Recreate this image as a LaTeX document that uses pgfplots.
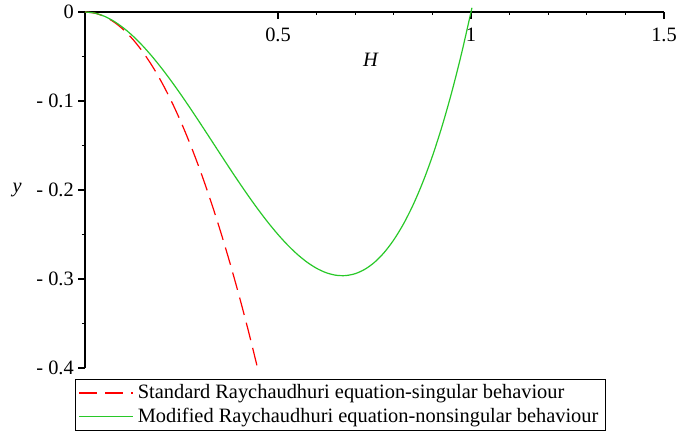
\documentclass[border=0pt]{standalone}
\usepackage{pgfplots}
\pgfplotsset{compat=1.18}
\usepackage{fontspec}
\setmainfont{Liberation Serif}
\definecolor{mgreen}{RGB}{40,200,40}
\begin{document}
\fontsize{20.4bp}{24bp}\selectfont
\begin{tikzpicture}
\path[use as bounding box] (-85bp,-64bp) rectangle (607bp,368bp);
\begin{axis}[
    at={(0,0)}, anchor=south west,
    scale only axis, width=579bp, height=356bp,
    xmin=0, xmax=1.5, ymin=-0.4, ymax=0,
    axis x line*=top, axis y line*=left,
    axis line style={line width=1.4bp},
    clip=false,
    xtick={0.5,1,1.5}, xticklabels={0.5,1,1.5},
    minor x tick num=4,
    ytick={-0.4,-0.3,-0.2,-0.1,0},
    yticklabels={- 0.4,- 0.3,- 0.2,- 0.1,0},
    minor y tick num=1,
    xtick align=inside, ytick align=outside,
    major tick length=7bp, minor tick length=3bp,
    tick style={black, line width=1.2bp},
    xticklabel style={anchor=north, inner sep=0pt, yshift=-16bp},
    yticklabel style={anchor=east, inner sep=0pt, xshift=-4bp},
    xlabel={\textit{H}},
    xlabel style={at={(axis description cs:0.494,0.865)}, anchor=center},
    ylabel={\textit{y}},
    ylabel style={at={(axis description cs:-0.117,0.5)}, anchor=center, rotate=-90},
    legend style={at={(axis description cs:-0.0173,-0.031)}, anchor=north west,
        draw=black, line width=1bp, inner xsep=3bp, inner ysep=3bp,
        row sep=2bp, cells={anchor=west}, nodes={inner xsep=4bp}},
    legend image code/.code={\draw[#1, line width=1.3bp] (0bp,0bp) -- (54bp,0bp);},
]
\addplot[red, line width=1.2bp, dash pattern=on 18bp off 8bp, smooth] coordinates {
(0,0) (0.025,-0.00125) (0.05,-0.005) (0.075,-0.01125) (0.1,-0.02)
(0.125,-0.03125) (0.15,-0.045) (0.175,-0.06125) (0.2,-0.08)
(0.225,-0.10125) (0.25,-0.125) (0.275,-0.15125) (0.3,-0.18)
(0.325,-0.21125) (0.35,-0.245) (0.375,-0.28125) (0.4,-0.32)
(0.425,-0.36125) (0.447,-0.4)
};
\addlegendentry{Standard Raychaudhuri equation-singular behaviour}
\addplot[mgreen, line width=1.2bp, smooth] coordinates {
(0,0) (0.025,-0.00122) (0.05,-0.00475) (0.075,-0.01041) (0.1,-0.018)
(0.125,-0.02734) (0.15,-0.03825) (0.175,-0.05053) (0.2,-0.064)
(0.225,-0.07847) (0.25,-0.09375) (0.275,-0.10966) (0.3,-0.126)
(0.325,-0.14259) (0.35,-0.15925) (0.375,-0.17578) (0.4,-0.192)
(0.425,-0.20772) (0.45,-0.22275) (0.475,-0.23691) (0.5,-0.25)
(0.525,-0.26184) (0.55,-0.27225) (0.575,-0.28103) (0.6,-0.288)
(0.625,-0.29297) (0.65,-0.29575) (0.675,-0.29616) (0.7,-0.294)
(0.725,-0.28909) (0.75,-0.28125) (0.775,-0.27028) (0.8,-0.256)
(0.825,-0.23822) (0.85,-0.21675) (0.875,-0.19141) (0.9,-0.162)
(0.925,-0.12834) (0.95,-0.09025) (0.975,-0.0475) (1.0,0) (1.002,0.004)
};
\addlegendentry{Modified Raychaudhuri equation-nonsingular behaviour}
\end{axis}
\end{tikzpicture}
\end{document}
